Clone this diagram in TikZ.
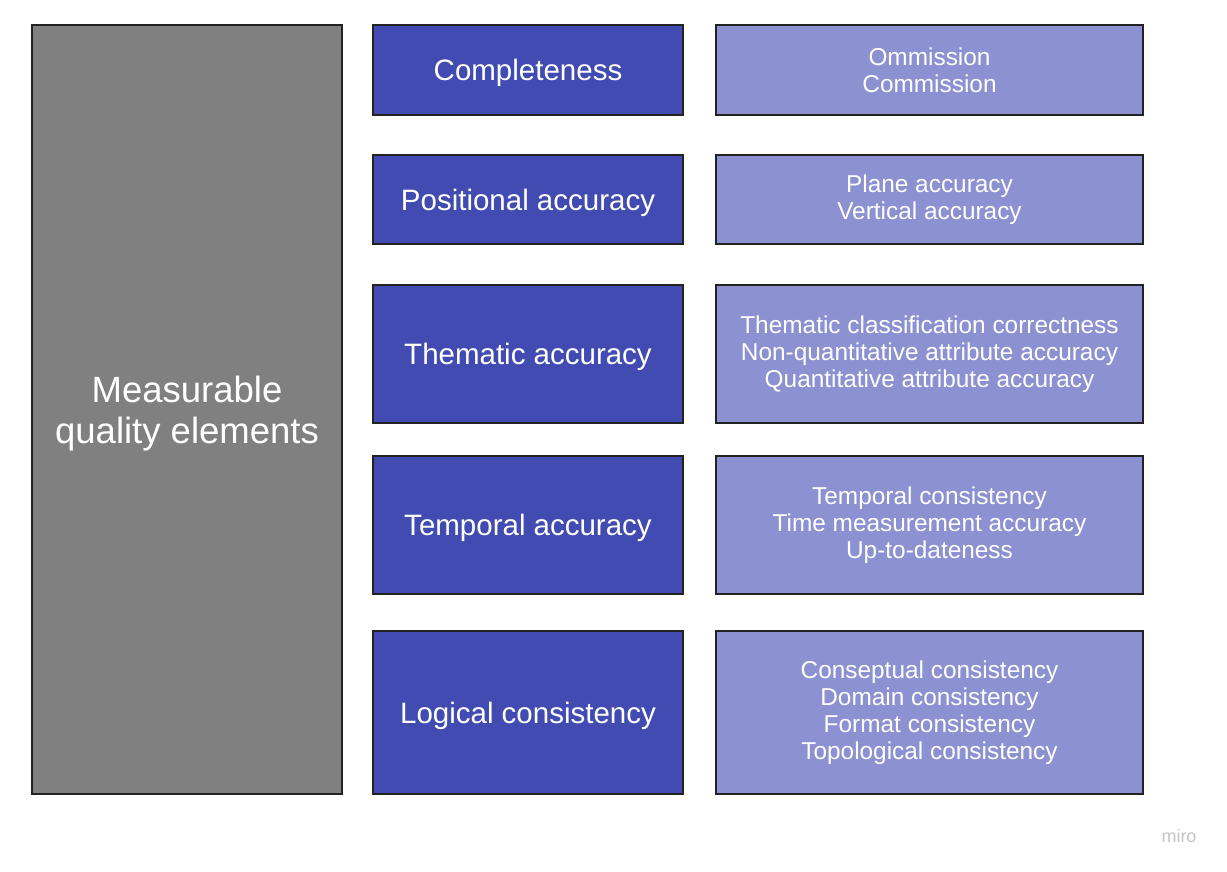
\documentclass[tikz,border=0pt]{standalone}
\usepackage{fontspec}
\setmainfont{Liberation Sans}
\definecolor{grayfill}{HTML}{808080}
\definecolor{bluefill}{HTML}{414BB2}
\definecolor{lightfill}{HTML}{8C91D1}
\definecolor{edge}{HTML}{222222}
\definecolor{logo}{HTML}{C4C4C4}
\tikzset{
  box/.style={draw=edge, line width=2pt, anchor=north west, inner sep=0pt, outer sep=0pt, align=center, text=white},
  mainbox/.style={box, fill=grayfill, text depth=0pt, font=\fontsize{36.5}{41}\selectfont},
  catbox/.style={box, fill=bluefill, text depth=0pt, font=\fontsize{29.5}{33}\selectfont},
  subbox/.style={box, fill=lightfill, font=\fontsize{24.4}{27}\selectfont},
}
\begin{document}
\begin{tikzpicture}[x=1pt,y=-1pt]
\useasboundingbox (0,0) rectangle (1227,871);
\node[mainbox, minimum width=310pt, minimum height=769pt] (main) at (32,25) {Measurable\\quality elements};
% row 1
\node[catbox, minimum width=310pt, minimum height=90pt] (c1) at (373,25) {Completeness};
\node[subbox, minimum width=427pt, minimum height=90pt] (s1) at (716,25) {Ommission\\Commission};
% row 2
\node[catbox, minimum width=310pt, minimum height=89pt] (c2) at (373,155) {Positional accuracy};
\node[subbox, minimum width=427pt, minimum height=89pt] (s2) at (716,155) {Plane accuracy\\Vertical accuracy};
% row 3
\node[catbox, minimum width=310pt, minimum height=138pt] (c3) at (373,285) {Thematic accuracy};
\node[subbox, minimum width=427pt, minimum height=138pt] (s3) at (716,285) {Thematic classification correctness\\Non-quantitative attribute accuracy\\Quantitative attribute accuracy};
% row 4
\node[catbox, minimum width=310pt, minimum height=138pt] (c4) at (373,456) {Temporal accuracy};
\node[subbox, minimum width=427pt, minimum height=138pt] (s4) at (716,456) {Temporal consistency\\Time measurement accuracy\\Up-to-dateness};
% row 5
\node[catbox, minimum width=310pt, minimum height=163pt] (c5) at (373,631) {Logical consistency};
\node[subbox, minimum width=427pt, minimum height=163pt] (s5) at (716,631) {Conseptual consistency\\Domain consistency\\Format consistency\\Topological consistency};
\node[text=logo, font=\fontsize{18}{20}\selectfont, inner sep=0pt] (logo) at (1179,836) {miro};
\end{tikzpicture}
\end{document}
